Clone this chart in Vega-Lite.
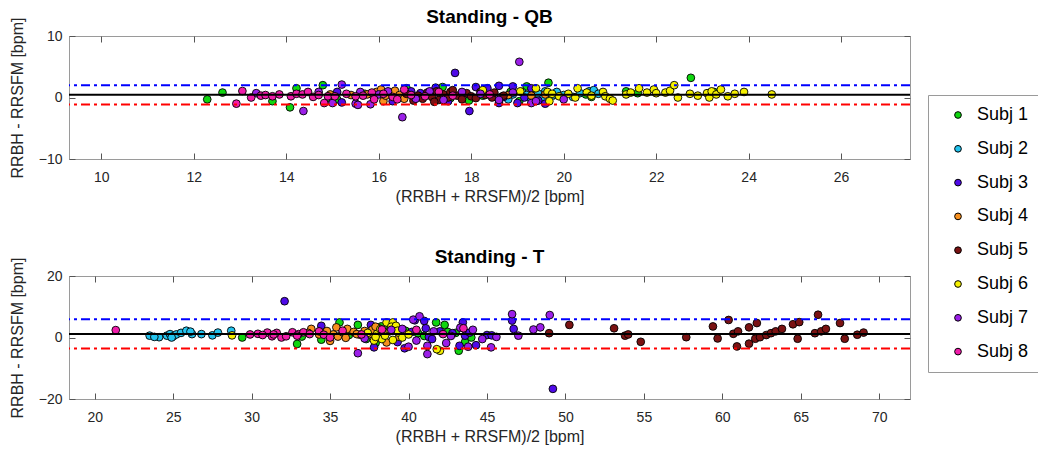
{
"$schema": "https://vega.github.io/schema/vega-lite/v6.json",
"padding": {"left": 8, "top": 7, "right": 0, "bottom": 0},
"config": {
 "font": "Liberation Sans",
 "view": {"stroke": "#9a9a9a", "strokeWidth": 1},
 "axis": {"domain": false, "grid": false, "tickColor": "#555555", "tickWidth": 1, "tickSize": -6, "labelFontSize": 14, "labelColor": "#262626", "titleFontSize": 16, "titleFontWeight": "normal", "titleColor": "#262626", "labelFont": "Liberation Sans", "titleFont": "Liberation Sans"},
 "title": {"fontSize": 19, "fontWeight": "bold", "color": "#000000", "font": "Liberation Sans", "offset": -10},
 "legend": {"orient": "none", "legendX": 859, "legendY": 59, "title": null, "symbolType": "circle", "symbolSize": 45, "symbolStrokeColor": "#000000", "symbolStrokeWidth": 1, "labelFontSize": 18, "labelFont": "Liberation Sans", "labelColor": "#000000", "rowPadding": 15.8, "padding": 11, "symbolOffset": 10, "labelOffset": 10, "strokeColor": "#9a9a9a", "fillColor": "#ffffff", "labelLimit": 200}
},
"datasets": {
"qb": [
{"s":"Subj 1","x":12.29,"y":-0.3},{"s":"Subj 1","x":12.62,"y":0.8},{"s":"Subj 1","x":13.7,"y":-0.6},{"s":"Subj 1","x":14.08,"y":-1.6},{"s":"Subj 1","x":14.22,"y":1.5},{"s":"Subj 1","x":14.79,"y":2.0},{"s":"Subj 1","x":14.93,"y":-0.1},{"s":"Subj 1","x":15.1,"y":-0.3},{"s":"Subj 1","x":15.7,"y":0.6},{"s":"Subj 1","x":16.6,"y":1.5},{"s":"Subj 1","x":17.38,"y":1.7},{"s":"Subj 1","x":17.55,"y":-0.1},{"s":"Subj 1","x":17.95,"y":-0.5},{"s":"Subj 1","x":18.25,"y":0.3},{"s":"Subj 1","x":18.6,"y":-0.5},{"s":"Subj 1","x":18.85,"y":0.9},{"s":"Subj 1","x":19.04,"y":-0.6},{"s":"Subj 1","x":19.2,"y":1.8},{"s":"Subj 1","x":19.67,"y":2.4},{"s":"Subj 1","x":19.8,"y":0.4},{"s":"Subj 1","x":20.48,"y":0.5},{"s":"Subj 1","x":20.6,"y":0.1},{"s":"Subj 1","x":21.35,"y":1.0},{"s":"Subj 1","x":21.6,"y":0.7},{"s":"Subj 1","x":22.75,"y":3.2},{"s":"Subj 1","x":23.25,"y":0.9},
{"s":"Subj 2","x":18.65,"y":0.1},{"s":"Subj 2","x":18.9,"y":0.5},{"s":"Subj 2","x":19.1,"y":0.9},{"s":"Subj 2","x":19.25,"y":0.2},{"s":"Subj 2","x":19.3,"y":-0.3},{"s":"Subj 2","x":19.35,"y":1.2},{"s":"Subj 2","x":19.45,"y":0.6},{"s":"Subj 2","x":19.55,"y":-0.2},{"s":"Subj 2","x":19.6,"y":1.0},{"s":"Subj 2","x":19.75,"y":0.3},{"s":"Subj 2","x":19.85,"y":0.9},{"s":"Subj 2","x":20.0,"y":0.4},{"s":"Subj 2","x":20.2,"y":0.1},{"s":"Subj 2","x":20.35,"y":0.7},{"s":"Subj 2","x":20.55,"y":1.0},{"s":"Subj 2","x":20.65,"y":1.2},{"s":"Subj 2","x":20.75,"y":0.6},{"s":"Subj 2","x":19.2,"y":0.4},{"s":"Subj 2","x":18.8,"y":-0.3},
{"s":"Subj 3","x":15.2,"y":-0.8},{"s":"Subj 3","x":15.1,"y":0.9},{"s":"Subj 3","x":16.3,"y":-0.6},{"s":"Subj 3","x":16.9,"y":0.7},{"s":"Subj 3","x":17.23,"y":1.6},{"s":"Subj 3","x":17.65,"y":4.0},{"s":"Subj 3","x":17.96,"y":-2.2},{"s":"Subj 3","x":18.1,"y":1.7},{"s":"Subj 3","x":18.35,"y":1.5},{"s":"Subj 3","x":18.6,"y":1.9},{"s":"Subj 3","x":18.6,"y":-0.9},{"s":"Subj 3","x":18.7,"y":0.1},{"s":"Subj 3","x":18.9,"y":1.8},{"s":"Subj 3","x":19.0,"y":-0.9},{"s":"Subj 3","x":19.15,"y":0.0},{"s":"Subj 3","x":19.3,"y":1.5},{"s":"Subj 3","x":19.45,"y":-0.5},{"s":"Subj 3","x":19.6,"y":-1.0},{"s":"Subj 3","x":17.5,"y":-0.6},{"s":"Subj 3","x":16.7,"y":1.0},
{"s":"Subj 4","x":15.4,"y":0.4},{"s":"Subj 4","x":15.75,"y":0.5},{"s":"Subj 4","x":15.9,"y":0.0},{"s":"Subj 4","x":15.95,"y":0.9},{"s":"Subj 4","x":16.05,"y":1.3},{"s":"Subj 4","x":16.1,"y":-0.6},{"s":"Subj 4","x":16.15,"y":0.3},{"s":"Subj 4","x":16.25,"y":0.8},{"s":"Subj 4","x":16.35,"y":1.1},{"s":"Subj 4","x":16.45,"y":0.4},{"s":"Subj 4","x":16.55,"y":-0.2},{"s":"Subj 4","x":17.1,"y":0.4},{"s":"Subj 4","x":18.8,"y":0.4},{"s":"Subj 4","x":19.3,"y":0.3},{"s":"Subj 4","x":19.6,"y":0.5},{"s":"Subj 4","x":14.95,"y":0.5},
{"s":"Subj 5","x":16.6,"y":0.6},{"s":"Subj 5","x":16.75,"y":-0.5},{"s":"Subj 5","x":16.85,"y":0.3},{"s":"Subj 5","x":16.95,"y":-0.2},{"s":"Subj 5","x":17.05,"y":0.8},{"s":"Subj 5","x":17.15,"y":0.1},{"s":"Subj 5","x":17.25,"y":1.0},{"s":"Subj 5","x":17.3,"y":-0.4},{"s":"Subj 5","x":17.4,"y":0.5},{"s":"Subj 5","x":17.5,"y":0.0},{"s":"Subj 5","x":17.55,"y":0.9},{"s":"Subj 5","x":17.7,"y":0.3},{"s":"Subj 5","x":17.8,"y":-0.3},{"s":"Subj 5","x":17.9,"y":0.7},{"s":"Subj 5","x":18.0,"y":0.2},{"s":"Subj 5","x":18.1,"y":-0.1},{"s":"Subj 5","x":18.2,"y":0.9},{"s":"Subj 5","x":18.3,"y":0.4},{"s":"Subj 5","x":18.45,"y":0.0},{"s":"Subj 5","x":18.5,"y":0.8},{"s":"Subj 5","x":18.7,"y":0.3},{"s":"Subj 5","x":17.6,"y":1.2},{"s":"Subj 5","x":17.2,"y":-0.7},
{"s":"Subj 6","x":18.25,"y":1.2},{"s":"Subj 6","x":19.06,"y":1.0},{"s":"Subj 6","x":19.4,"y":1.5},{"s":"Subj 6","x":19.65,"y":0.9},{"s":"Subj 6","x":19.69,"y":-0.6},{"s":"Subj 6","x":19.75,"y":0.6},{"s":"Subj 6","x":19.9,"y":0.2},{"s":"Subj 6","x":20.1,"y":0.6},{"s":"Subj 6","x":20.25,"y":0.0},{"s":"Subj 6","x":20.3,"y":1.5},{"s":"Subj 6","x":20.5,"y":0.8},{"s":"Subj 6","x":20.6,"y":0.3},{"s":"Subj 6","x":20.85,"y":0.9},{"s":"Subj 6","x":20.9,"y":0.2},{"s":"Subj 6","x":21.0,"y":-0.2},{"s":"Subj 6","x":21.06,"y":-0.5},{"s":"Subj 6","x":21.35,"y":0.5},{"s":"Subj 6","x":21.45,"y":0.8},{"s":"Subj 6","x":21.63,"y":1.5},{"s":"Subj 6","x":21.8,"y":0.8},{"s":"Subj 6","x":21.95,"y":1.3},{"s":"Subj 6","x":22.0,"y":0.7},{"s":"Subj 6","x":22.2,"y":0.8},{"s":"Subj 6","x":22.3,"y":1.1},{"s":"Subj 6","x":22.39,"y":2.0},{"s":"Subj 6","x":22.47,"y":0.0},{"s":"Subj 6","x":22.73,"y":0.6},{"s":"Subj 6","x":22.9,"y":0.3},{"s":"Subj 6","x":23.1,"y":0.7},{"s":"Subj 6","x":23.15,"y":0.0},{"s":"Subj 6","x":23.2,"y":1.0},{"s":"Subj 6","x":23.3,"y":0.5},{"s":"Subj 6","x":23.4,"y":1.3},{"s":"Subj 6","x":23.55,"y":0.2},{"s":"Subj 6","x":23.7,"y":0.6},{"s":"Subj 6","x":23.9,"y":0.9},{"s":"Subj 6","x":24.5,"y":0.5},
{"s":"Subj 7","x":13.35,"y":0.7},{"s":"Subj 7","x":14.37,"y":-2.2},{"s":"Subj 7","x":15.0,"y":-0.9},{"s":"Subj 7","x":15.2,"y":2.1},{"s":"Subj 7","x":15.5,"y":-1.0},{"s":"Subj 7","x":15.55,"y":-1.2},{"s":"Subj 7","x":15.6,"y":0.9},{"s":"Subj 7","x":15.82,"y":-1.1},{"s":"Subj 7","x":16.0,"y":0.5},{"s":"Subj 7","x":16.2,"y":1.0},{"s":"Subj 7","x":16.51,"y":-3.2},{"s":"Subj 7","x":16.8,"y":-0.2},{"s":"Subj 7","x":17.1,"y":1.0},{"s":"Subj 7","x":17.4,"y":-0.4},{"s":"Subj 7","x":17.8,"y":0.9},{"s":"Subj 7","x":18.2,"y":0.6},{"s":"Subj 7","x":18.6,"y":-0.4},{"s":"Subj 7","x":18.9,"y":0.8},{"s":"Subj 7","x":19.04,"y":5.8},{"s":"Subj 7","x":19.3,"y":-0.9},{"s":"Subj 7","x":20.0,"y":-0.3},{"s":"Subj 7","x":19.4,"y":-0.6},{"s":"Subj 7","x":14.7,"y":0.9},
{"s":"Subj 8","x":12.92,"y":-1.0},{"s":"Subj 8","x":13.05,"y":1.05},{"s":"Subj 8","x":13.24,"y":0.0},{"s":"Subj 8","x":13.45,"y":0.3},{"s":"Subj 8","x":13.55,"y":0.4},{"s":"Subj 8","x":13.7,"y":0.2},{"s":"Subj 8","x":13.85,"y":0.5},{"s":"Subj 8","x":14.1,"y":0.2},{"s":"Subj 8","x":14.22,"y":0.6},{"s":"Subj 8","x":14.35,"y":0.5},{"s":"Subj 8","x":14.47,"y":0.9},{"s":"Subj 8","x":14.58,"y":0.1},{"s":"Subj 8","x":14.7,"y":0.4},{"s":"Subj 8","x":14.82,"y":-0.9},{"s":"Subj 8","x":14.9,"y":0.2},{"s":"Subj 8","x":15.05,"y":0.2},{"s":"Subj 8","x":15.3,"y":0.6},{"s":"Subj 8","x":15.5,"y":0.2},{"s":"Subj 8","x":15.66,"y":0.3},{"s":"Subj 8","x":15.85,"y":0.8},{"s":"Subj 8","x":15.9,"y":-0.3},{"s":"Subj 8","x":16.1,"y":0.6},{"s":"Subj 8","x":16.3,"y":0.1},{"s":"Subj 8","x":16.4,"y":-0.3},{"s":"Subj 8","x":16.55,"y":1.3},{"s":"Subj 8","x":16.7,"y":0.4},{"s":"Subj 8","x":17.0,"y":0.2},{"s":"Subj 8","x":17.3,"y":0.9},{"s":"Subj 8","x":17.6,"y":0.3},{"s":"Subj 8","x":18.4,"y":0.5}
],
"t": [
{"s":"Subj 1","x":29.4,"y":0.0},{"s":"Subj 1","x":32.9,"y":-2.1},{"s":"Subj 1","x":33.2,"y":0.3},{"s":"Subj 1","x":34.44,"y":-0.7},{"s":"Subj 1","x":35.6,"y":4.9},{"s":"Subj 1","x":36.77,"y":4.1},{"s":"Subj 1","x":36.2,"y":0.8},{"s":"Subj 1","x":37.3,"y":-0.5},{"s":"Subj 1","x":38.26,"y":3.6},{"s":"Subj 1","x":38.8,"y":3.2},{"s":"Subj 1","x":40.6,"y":1.4},{"s":"Subj 1","x":41.76,"y":4.9},{"s":"Subj 1","x":42.3,"y":4.1},{"s":"Subj 1","x":42.5,"y":1.8},{"s":"Subj 1","x":43.2,"y":-4.3},{"s":"Subj 1","x":43.6,"y":-1.5},{"s":"Subj 1","x":44.0,"y":0.0},{"s":"Subj 1","x":41.0,"y":0.5},{"s":"Subj 1","x":43.0,"y":1.5},{"s":"Subj 1","x":37.9,"y":-1.8},{"s":"Subj 1","x":39.8,"y":2.2},
{"s":"Subj 2","x":23.5,"y":0.6},{"s":"Subj 2","x":24.1,"y":0.1},{"s":"Subj 2","x":24.6,"y":0.6},{"s":"Subj 2","x":24.8,"y":1.1},{"s":"Subj 2","x":25.0,"y":0.4},{"s":"Subj 2","x":25.2,"y":1.0},{"s":"Subj 2","x":25.5,"y":1.5},{"s":"Subj 2","x":25.84,"y":2.2},{"s":"Subj 2","x":26.2,"y":1.1},{"s":"Subj 2","x":26.1,"y":1.9},{"s":"Subj 2","x":26.8,"y":1.1},{"s":"Subj 2","x":27.5,"y":0.7},{"s":"Subj 2","x":27.85,"y":1.6},{"s":"Subj 2","x":28.7,"y":2.2},{"s":"Subj 2","x":23.8,"y":0.2},{"s":"Subj 2","x":24.9,"y":0.0},
{"s":"Subj 3","x":32.1,"y":11.8},{"s":"Subj 3","x":34.44,"y":3.8},{"s":"Subj 3","x":37.6,"y":4.1},{"s":"Subj 3","x":37.8,"y":-3.2},{"s":"Subj 3","x":39.75,"y":-3.5},{"s":"Subj 3","x":39.3,"y":-1.5},{"s":"Subj 3","x":40.4,"y":5.6},{"s":"Subj 3","x":41.0,"y":5.4},{"s":"Subj 3","x":41.1,"y":3.0},{"s":"Subj 3","x":41.3,"y":0.2},{"s":"Subj 3","x":41.5,"y":-0.5},{"s":"Subj 3","x":42.8,"y":1.4},{"s":"Subj 3","x":43.25,"y":-2.7},{"s":"Subj 3","x":43.6,"y":0.6},{"s":"Subj 3","x":43.9,"y":1.6},{"s":"Subj 3","x":43.46,"y":4.9},{"s":"Subj 3","x":44.3,"y":-2.5},{"s":"Subj 3","x":45.0,"y":0.8},{"s":"Subj 3","x":45.3,"y":0.7},{"s":"Subj 3","x":46.6,"y":5.5},{"s":"Subj 3","x":46.7,"y":2.8},{"s":"Subj 3","x":49.2,"y":-16.7},{"s":"Subj 3","x":42.0,"y":2.0},{"s":"Subj 3","x":40.2,"y":1.8},
{"s":"Subj 4","x":33.8,"y":2.8},{"s":"Subj 4","x":34.3,"y":1.0},{"s":"Subj 4","x":35.4,"y":3.3},{"s":"Subj 4","x":35.0,"y":-1.1},{"s":"Subj 4","x":35.2,"y":1.0},{"s":"Subj 4","x":35.5,"y":0.3},{"s":"Subj 4","x":35.8,"y":1.7},{"s":"Subj 4","x":36.1,"y":2.8},{"s":"Subj 4","x":36.0,"y":-0.1},{"s":"Subj 4","x":36.5,"y":1.8},{"s":"Subj 4","x":36.9,"y":0.9},{"s":"Subj 4","x":37.2,"y":2.1},{"s":"Subj 4","x":37.5,"y":1.1},{"s":"Subj 4","x":37.7,"y":2.6},{"s":"Subj 4","x":38.0,"y":0.7},{"s":"Subj 4","x":38.6,"y":-1.6},{"s":"Subj 4","x":38.1,"y":3.0},{"s":"Subj 4","x":38.4,"y":1.9},{"s":"Subj 4","x":39.4,"y":0.2},{"s":"Subj 4","x":39.8,"y":1.3},{"s":"Subj 4","x":34.8,"y":2.1},{"s":"Subj 4","x":33.6,"y":1.5},{"s":"Subj 4","x":36.7,"y":1.1},{"s":"Subj 4","x":37.9,"y":3.5},
{"s":"Subj 5","x":48.96,"y":1.4},{"s":"Subj 5","x":50.25,"y":4.1},{"s":"Subj 5","x":53.1,"y":3.0},{"s":"Subj 5","x":53.8,"y":0.6},{"s":"Subj 5","x":54.0,"y":1.0},{"s":"Subj 5","x":54.8,"y":-1.4},{"s":"Subj 5","x":57.7,"y":0.1},{"s":"Subj 5","x":59.4,"y":3.6},{"s":"Subj 5","x":59.7,"y":-0.3},{"s":"Subj 5","x":60.4,"y":5.7},{"s":"Subj 5","x":60.7,"y":1.2},{"s":"Subj 5","x":61.0,"y":2.0},{"s":"Subj 5","x":60.93,"y":-2.9},{"s":"Subj 5","x":61.7,"y":3.3},{"s":"Subj 5","x":61.7,"y":-2.0},{"s":"Subj 5","x":62.2,"y":4.7},{"s":"Subj 5","x":62.1,"y":-0.4},{"s":"Subj 5","x":62.4,"y":0.1},{"s":"Subj 5","x":62.8,"y":0.8},{"s":"Subj 5","x":63.1,"y":1.4},{"s":"Subj 5","x":63.4,"y":2.0},{"s":"Subj 5","x":63.8,"y":2.8},{"s":"Subj 5","x":64.5,"y":4.3},{"s":"Subj 5","x":64.9,"y":5.0},{"s":"Subj 5","x":64.8,"y":-0.4},{"s":"Subj 5","x":66.1,"y":7.4},{"s":"Subj 5","x":65.9,"y":1.4},{"s":"Subj 5","x":66.3,"y":2.0},{"s":"Subj 5","x":66.6,"y":2.8},{"s":"Subj 5","x":67.5,"y":4.7},{"s":"Subj 5","x":67.8,"y":-0.4},{"s":"Subj 5","x":68.6,"y":0.9},{"s":"Subj 5","x":69.0,"y":1.6},
{"s":"Subj 6","x":28.75,"y":0.7},{"s":"Subj 6","x":37.8,"y":-1.0},{"s":"Subj 6","x":38.6,"y":4.9},{"s":"Subj 6","x":39.0,"y":4.9},{"s":"Subj 6","x":38.8,"y":2.0},{"s":"Subj 6","x":38.0,"y":1.2},{"s":"Subj 6","x":37.4,"y":1.5},{"s":"Subj 6","x":39.4,"y":1.5},{"s":"Subj 6","x":39.6,"y":0.0},{"s":"Subj 6","x":38.3,"y":-0.5},{"s":"Subj 6","x":38.9,"y":3.5},{"s":"Subj 6","x":39.2,"y":3.8},{"s":"Subj 6","x":38.5,"y":0.6},{"s":"Subj 6","x":39.0,"y":-0.8},{"s":"Subj 6","x":42.0,"y":-4.3},{"s":"Subj 6","x":41.8,"y":-3.8},{"s":"Subj 6","x":40.0,"y":1.0},{"s":"Subj 6","x":38.2,"y":2.7},{"s":"Subj 6","x":37.9,"y":0.2},{"s":"Subj 6","x":39.3,"y":2.2},
{"s":"Subj 7","x":36.77,"y":-5.1},{"s":"Subj 7","x":37.2,"y":-0.3},{"s":"Subj 7","x":38.9,"y":2.5},{"s":"Subj 7","x":39.6,"y":2.8},{"s":"Subj 7","x":40.3,"y":5.8},{"s":"Subj 7","x":40.7,"y":6.9},{"s":"Subj 7","x":40.0,"y":-3.0},{"s":"Subj 7","x":41.2,"y":-5.4},{"s":"Subj 7","x":41.2,"y":-2.7},{"s":"Subj 7","x":41.6,"y":2.0},{"s":"Subj 7","x":42.7,"y":0.5},{"s":"Subj 7","x":43.3,"y":3.2},{"s":"Subj 7","x":43.8,"y":-3.0},{"s":"Subj 7","x":44.1,"y":2.5},{"s":"Subj 7","x":44.7,"y":-0.5},{"s":"Subj 7","x":45.26,"y":-3.2},{"s":"Subj 7","x":45.6,"y":0.2},{"s":"Subj 7","x":46.6,"y":7.6},{"s":"Subj 7","x":47.0,"y":0.6},{"s":"Subj 7","x":47.96,"y":2.6},{"s":"Subj 7","x":48.4,"y":3.3},{"s":"Subj 7","x":49.0,"y":7.3},{"s":"Subj 7","x":40.5,"y":-1.0},{"s":"Subj 7","x":42.4,"y":-1.8},
{"s":"Subj 8","x":21.34,"y":2.4},{"s":"Subj 8","x":29.9,"y":1.0},{"s":"Subj 8","x":30.4,"y":1.2},{"s":"Subj 8","x":31.0,"y":1.6},{"s":"Subj 8","x":31.3,"y":0.4},{"s":"Subj 8","x":31.6,"y":1.5},{"s":"Subj 8","x":31.9,"y":0.0},{"s":"Subj 8","x":32.2,"y":0.4},{"s":"Subj 8","x":32.6,"y":1.7},{"s":"Subj 8","x":33.0,"y":1.1},{"s":"Subj 8","x":33.3,"y":1.7},{"s":"Subj 8","x":33.7,"y":1.1},{"s":"Subj 8","x":34.3,"y":2.0},{"s":"Subj 8","x":34.6,"y":0.9},{"s":"Subj 8","x":35.0,"y":0.0},{"s":"Subj 8","x":30.7,"y":0.8},{"s":"Subj 8","x":31.4,"y":1.0},{"s":"Subj 8","x":32.9,"y":0.6},{"s":"Subj 8","x":35.8,"y":2.2},{"s":"Subj 8","x":37.0,"y":1.0},{"s":"Subj 8","x":38.3,"y":2.6},{"s":"Subj 8","x":40.5,"y":2.5},{"s":"Subj 8","x":42.2,"y":1.1},{"s":"Subj 8","x":43.5,"y":3.0}
]
},
"vconcat": [
{
 "width": 841, "height": 123,
 "title": {"text": "Standing - QB"},
 "layer": [
  {"data": {"name": "qb"},
   "mark": {"type": "point", "shape": "circle", "filled": true, "size": 60, "stroke": "#000000", "strokeWidth": 0.9, "opacity": 1},
   "encoding": {
    "x": {"field": "x", "type": "quantitative", "scale": {"domain": [9.3, 27.49], "nice": false, "zero": false}, "axis": {"values": [10,12,14,16,18,20,22,24,26], "title": "(RRBH + RRSFM)/2 [bpm]", "labelPadding": 17, "titlePadding": 4}},
    "y": {"field": "y", "type": "quantitative", "scale": {"domain": [-10, 10], "nice": false}, "axis": {"values": [-10,0,10], "title": "RRBH - RRSFM [bpm]", "labelPadding": 13, "titlePadding": 13}},
    "color": {"field": "s", "type": "nominal", "scale": {"domain": ["Subj 1","Subj 2","Subj 3","Subj 4","Subj 5","Subj 6","Subj 7","Subj 8"], "range": ["#0fd60f","#22c3ee","#4f0ae8","#f7901e","#7a1212","#f5f000","#9b1fe8","#f01caa"]}}
   }},
  {"data": {"name": "qb"},
   "mark": {"type": "point", "opacity": 0},
   "encoding": {
    "x": {"field": "x", "type": "quantitative", "axis": {"orient": "top", "labels": false, "title": null, "values": [10,12,14,16,18,20,22,24,26]}},
    "y": {"field": "y", "type": "quantitative", "axis": {"orient": "right", "labels": false, "title": null, "values": [-10,0,10]}}
   }},
  {"data": {"values": [{}]}, "mark": {"type": "rule", "color": "#000000", "strokeWidth": 2}, "encoding": {"y": {"datum": 0.45, "axis": null}}},
  {"data": {"values": [{}]}, "mark": {"type": "rule", "color": "#0000ff", "strokeWidth": 2, "strokeDash": [9, 4, 3, 4]}, "encoding": {"y": {"datum": 2.0, "axis": null}}},
  {"data": {"values": [{}]}, "mark": {"type": "rule", "color": "#ff0000", "strokeWidth": 2, "strokeDash": [9, 4, 3, 4]}, "encoding": {"y": {"datum": -1.15, "axis": null}}}
 ],
 "resolve": {"axis": {"x": "independent", "y": "independent"}}
},
{
 "width": 841, "height": 123,
 "title": {"text": "Standing - T"},
 "layer": [
  {"data": {"name": "t"},
   "mark": {"type": "point", "shape": "circle", "filled": true, "size": 60, "stroke": "#000000", "strokeWidth": 0.9, "opacity": 1},
   "encoding": {
    "x": {"field": "x", "type": "quantitative", "scale": {"domain": [18.36, 71.96], "nice": false, "zero": false}, "axis": {"values": [20,25,30,35,40,45,50,55,60,65,70], "title": "(RRBH + RRSFM)/2 [bpm]", "labelPadding": 17, "titlePadding": 4}},
    "y": {"field": "y", "type": "quantitative", "scale": {"domain": [-20, 20], "nice": false}, "axis": {"values": [-20,0,20], "title": "RRBH - RRSFM [bpm]", "labelPadding": 13, "titlePadding": 13}},
    "color": {"field": "s", "type": "nominal", "scale": {"domain": ["Subj 1","Subj 2","Subj 3","Subj 4","Subj 5","Subj 6","Subj 7","Subj 8"], "range": ["#0fd60f","#22c3ee","#4f0ae8","#f7901e","#7a1212","#f5f000","#9b1fe8","#f01caa"]}}
   }},
  {"data": {"name": "t"},
   "mark": {"type": "point", "opacity": 0},
   "encoding": {
    "x": {"field": "x", "type": "quantitative", "axis": {"orient": "top", "labels": false, "title": null, "values": [20,25,30,35,40,45,50,55,60,65,70]}},
    "y": {"field": "y", "type": "quantitative", "axis": {"orient": "right", "labels": false, "title": null, "values": [-20,0,20]}}
   }},
  {"data": {"values": [{}]}, "mark": {"type": "rule", "color": "#000000", "strokeWidth": 2}, "encoding": {"y": {"datum": 1.1, "axis": null}}},
  {"data": {"values": [{}]}, "mark": {"type": "rule", "color": "#0000ff", "strokeWidth": 2, "strokeDash": [9, 4, 3, 4]}, "encoding": {"y": {"datum": 5.9, "axis": null}}},
  {"data": {"values": [{}]}, "mark": {"type": "rule", "color": "#ff0000", "strokeWidth": 2, "strokeDash": [9, 4, 3, 4]}, "encoding": {"y": {"datum": -3.6, "axis": null}}}
 ],
 "resolve": {"axis": {"x": "independent", "y": "independent"}}
}
],
"spacing": 42
}
